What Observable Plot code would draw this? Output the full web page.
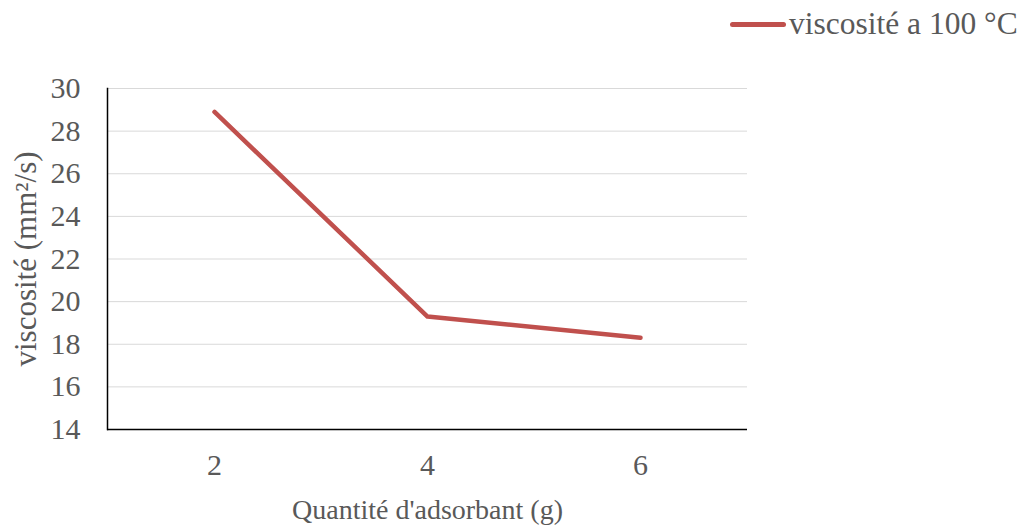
<!DOCTYPE html>
<html>
<head>
<meta charset="utf-8">
<script src="https://cdn.jsdelivr.net/npm/d3@7"></script>
<script src="https://cdn.jsdelivr.net/npm/@observablehq/plot@0.6"></script>
<style>
  html, body { margin: 0; padding: 0; background: #fff; }
  #wrap { width: 1030px; height: 527px; position: relative; font-family: "Liberation Serif", "Times New Roman", serif; color: #595959; }
  #legend { height: 50px; position: relative; }
  #legend .sw { position: absolute; left: 730px; top: 22px; width: 56px; height: 5px; background: #C0504D; border-radius: 3px; }
  #legend .lb { position: absolute; left: 789px; top: 6px; font-size: 31.5px; line-height: 36px; white-space: nowrap; }
</style>
</head>
<body>
<div id="wrap">
  <div id="legend"><span class="sw"></span><span class="lb" id="seriesName"></span></div>
  <div id="chart"></div>
</div>
<script>
const quantities = ["2", "4", "6"];
const viscosity = [28.9, 19.3, 18.3];
const seriesName = "viscosité a 100 °C";
const yTicks = [14, 16, 18, 20, 22, 24, 26, 28, 30];
const xLabel = "Quantité d'adsorbant (g)";
const yLabel = "viscosité (mm²/s)";

document.getElementById("seriesName").textContent = seriesName;

const data = quantities.map((q, i) => ({q, v: viscosity[i]}));

const chart = Plot.plot({
  width: 1030,
  height: 477,
  marginLeft: 107,
  marginRight: 283,
  marginTop: 38,
  marginBottom: 98,
  style: {fontFamily: "Liberation Serif, Times New Roman, serif", fontSize: "30px", color: "#595959", background: "#fff"},
  x: {type: "point", domain: quantities, padding: 0.5},
  y: {domain: [14, 30]},
  marks: [
    Plot.gridY(yTicks, {stroke: "#d9d9d9", strokeOpacity: 1, strokeWidth: 1}),
    Plot.axisY(yTicks, {tickSize: 0, tickPadding: 27, fontSize: 30, fill: "#595959",
      label: yLabel, labelAnchor: "center", labelArrow: "none", labelOffset: 94}),
    Plot.axisX(quantities, {tickSize: 0, tickPadding: 24, fontSize: 30, fill: "#595959",
      label: xLabel, labelAnchor: "center", labelArrow: "none", labelOffset: 89}),
    Plot.ruleY([14], {stroke: "#000", strokeWidth: 1.5}),
    Plot.frame({anchor: "left", stroke: "#000", strokeWidth: 1.5}),
    Plot.lineY(data, {x: "q", y: "v", stroke: "#C0504D", strokeWidth: 4.5, strokeLinecap: "round", strokeLinejoin: "round"})
  ]
});
chart.querySelectorAll("g[aria-label='x-axis label'] text").forEach(t => t.setAttribute("font-size", 28));
chart.querySelectorAll("g[aria-label='y-axis label'] text").forEach(t => t.setAttribute("font-size", 31));
document.getElementById("chart").appendChild(chart);
</script>
</body>
</html>
